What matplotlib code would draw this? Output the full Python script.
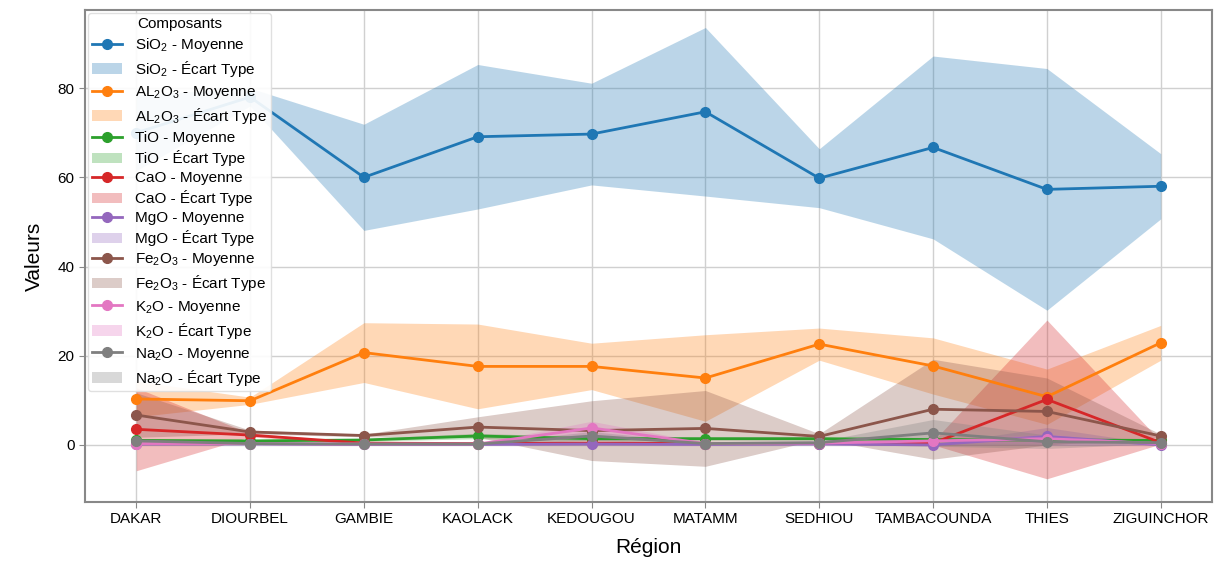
import matplotlib
matplotlib.use("Agg")
import matplotlib.pyplot as plt
import numpy as np

plt.rcParams["font.family"] = ["Liberation Sans", "DejaVu Sans"]
plt.rcParams["mathtext.default"] = "regular"

regions = ["DAKAR", "DIOURBEL", "GAMBIE", "KAOLACK", "KEDOUGOU", "MATAMM",
           "SEDHIOU", "TAMBACOUNDA", "THIES", "ZIGUINCHOR"]

components = ["SiO$_2$", "AL$_2$O$_3$", "TiO", "CaO", "MgO",
              "Fe$_2$O$_3$", "K$_2$O", "Na$_2$O"]

sio2_mean = [70.0, 78.0, 60.0, 69.1, 69.7, 74.7, 59.8, 66.7, 57.3, 58.0]
sio2_std = [8.5, 2.0, 11.9, 16.2, 11.4, 18.9, 6.6, 20.5, 27.1, 7.3]

al2o3_mean = [10.3, 9.9, 20.7, 17.6, 17.6, 15.0, 22.6, 17.7, 10.8, 22.9]
al2o3_std = [4.0, 0.8, 6.7, 9.5, 5.2, 9.7, 3.6, 6.3, 6.2, 3.9]

tio_mean = [1.0, 0.9, 1.1, 2.0, 1.4, 1.4, 1.4, 1.2, 1.1, 1.0]
tio_std = [0.3, 0.2, 0.3, 0.6, 0.4, 0.3, 0.3, 0.3, 0.3, 0.2]

cao_mean = [3.5, 2.2, 0.4, 0.3, 0.4, 0.3, 0.3, 0.4, 10.2, 0.5]
cao_std = [9.3, 0.4, 0.2, 0.2, 0.3, 0.2, 0.2, 0.4, 17.8, 0.3]

mgo_mean = [0.2, 0.2, 0.1, 0.1, 0.2, 0.1, 0.2, 0.0, 1.9, 0.0]
mgo_std = [0.3, 0.1, 0.1, 0.1, 0.3, 0.1, 0.2, 0.1, 2.0, 0.1]

fe2o3_mean = [6.7, 2.9, 2.1, 4.0, 3.2, 3.7, 1.9, 8.0, 7.5, 2.0]
fe2o3_std = [5.0, 0.4, 0.3, 2.3, 6.7, 8.5, 0.6, 11.2, 7.5, 0.4]

k2o_mean = [0.3, 0.3, 0.2, 0.2, 3.8, 0.3, 0.4, 0.9, 1.4, 0.3]
k2o_std = [0.2, 0.1, 0.1, 0.1, 1.5, 0.2, 0.3, 0.5, 1.0, 0.1]

na2o_mean = [0.9, 0.3, 0.2, 0.2, 2.0, 0.3, 0.5, 2.7, 0.7, 0.5]
na2o_std = [0.6, 0.1, 0.1, 0.1, 1.0, 0.2, 0.3, 3.0, 1.5, 0.2]

means = [sio2_mean, al2o3_mean, tio_mean, cao_mean, mgo_mean,
         fe2o3_mean, k2o_mean, na2o_mean]
stds = [sio2_std, al2o3_std, tio_std, cao_std, mgo_std,
        fe2o3_std, k2o_std, na2o_std]
colors = ["#1f77b4", "#ff7f0e", "#2ca02c", "#d62728", "#9467bd",
          "#8c564b", "#e377c2", "#7f7f7f"]

fig = plt.figure(figsize=(12.16, 5.61), dpi=100)
ax = fig.add_axes([0.0699, 0.1052, 0.9268, 0.8768])

x = np.arange(len(regions))
for name, m, s, c in zip(components, means, stds, colors):
    m = np.asarray(m)
    s = np.asarray(s)
    ax.plot(x, m, "-o", color=c, lw=2, ms=7, label=f"{name} - Moyenne")
    ax.fill_between(x, m - s, m + s, color=c, alpha=0.3, lw=0,
                    label=f"{name} - Écart Type")

ax.set_xticks(x)
ax.set_xticklabels(regions, fontsize=11)
ax.set_yticks([0, 20, 40, 60, 80])
ax.tick_params(axis="y", labelsize=11)
ax.set_ylim(-12.8, 97.5)
ax.set_xlabel("Région", fontsize=15, labelpad=8)
ax.set_ylabel("Valeurs", fontsize=15, labelpad=10)

ax.grid(True, color="#d0d0d0", lw=1)
ax.set_axisbelow(True)
for sp in ax.spines.values():
    sp.set_color("#888888")
    sp.set_linewidth(1.5)
ax.tick_params(colors="#888888", labelcolor="black", length=4)

leg = ax.legend(title="Composants", loc="upper left", fontsize=11,
                title_fontsize=11, framealpha=0.9, borderaxespad=0.2,
                handlelength=2.0, labelspacing=0.33, borderpad=0.25)
leg.get_frame().set_edgecolor("#dddddd")

fig.savefig("out.png", dpi=100)
